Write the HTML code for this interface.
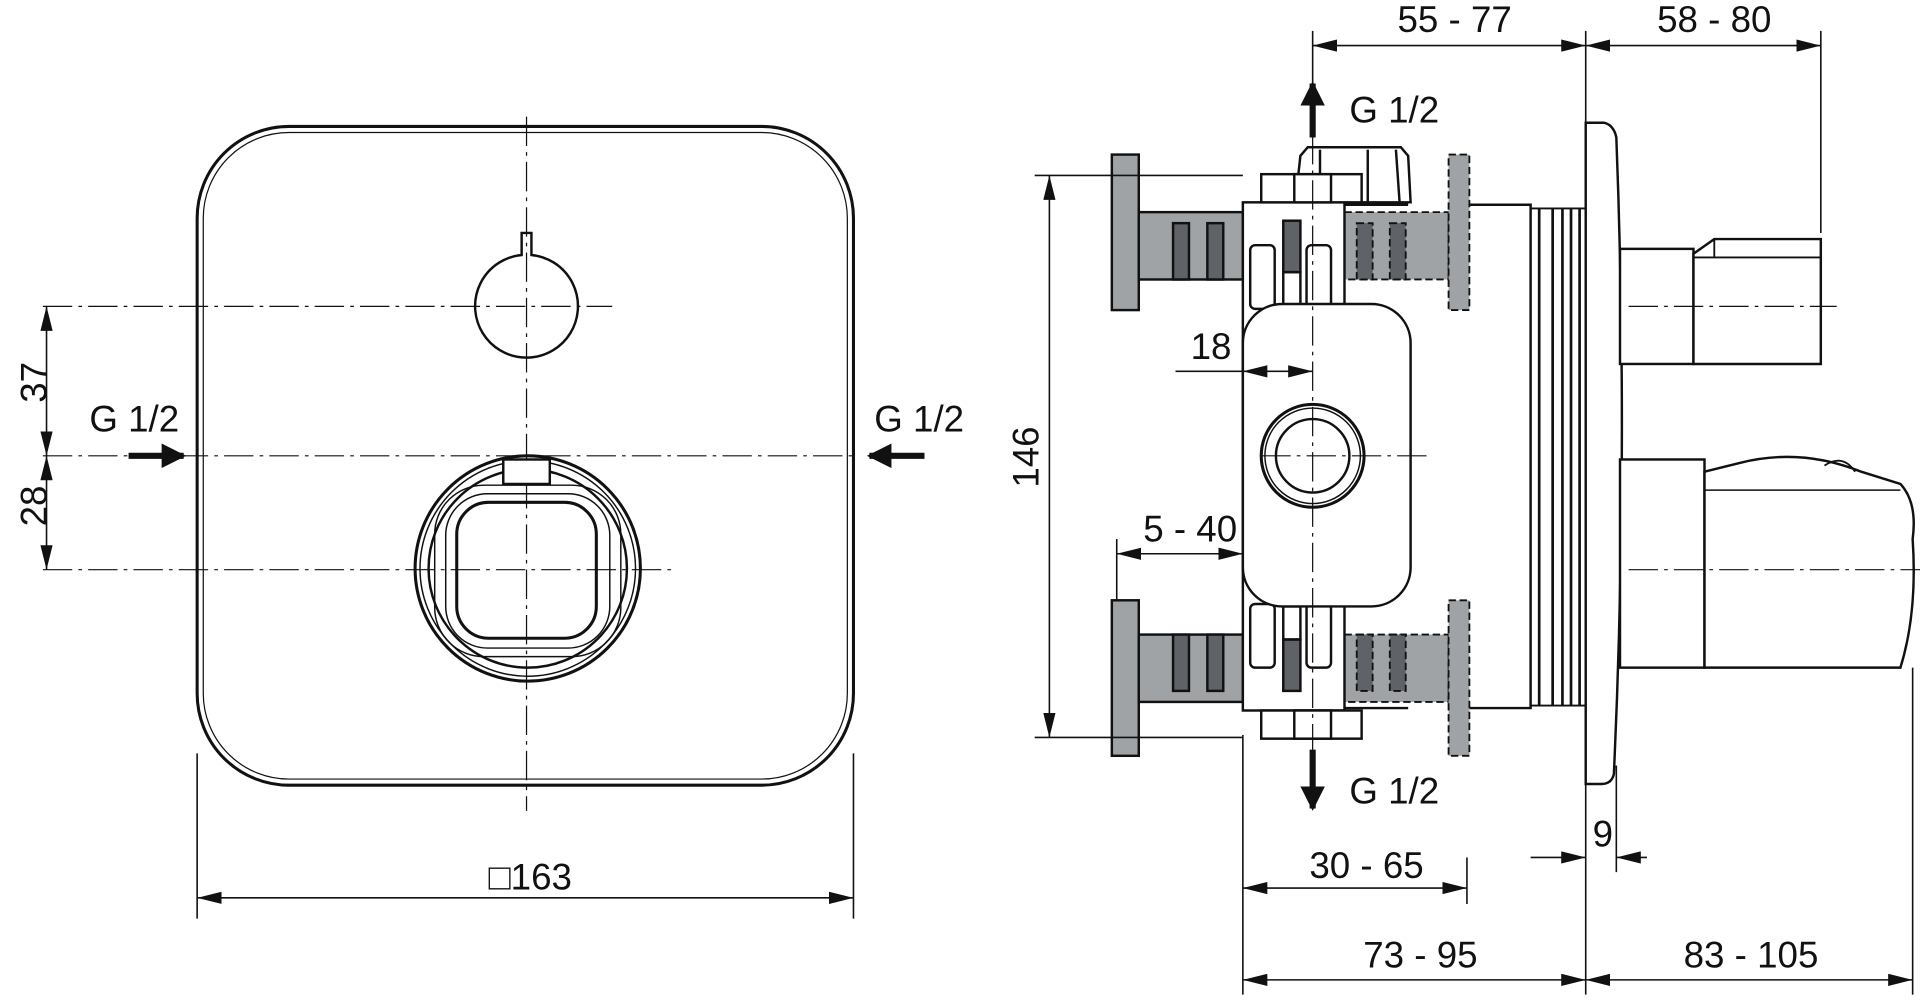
<!DOCTYPE html>
<html><head><meta charset="utf-8"><style>
html,body{margin:0;padding:0;background:#fff;}
svg{display:block;}
text{font-family:"Liberation Sans",Arial,sans-serif;font-size:30px;fill:#111;}
</style></head><body>
<svg width="1920" height="1001" viewBox="0 0 1568 817" xmlns="http://www.w3.org/2000/svg">
<defs>
<marker id="a" viewBox="0 0 20 10" refX="20" refY="5" markerWidth="20" markerHeight="10" markerUnits="userSpaceOnUse" orient="auto-start-reverse"><path d="M0,0 L20,5 L0,10 z" fill="#111"/></marker>
<marker id="b" viewBox="0 0 20 20" refX="18" refY="10" markerWidth="20" markerHeight="20" markerUnits="userSpaceOnUse" orient="auto"><path d="M0,0 L20,10 L0,20 z" fill="#111"/></marker>
</defs>
<g fill="none" stroke="#111" stroke-width="1.3">
<!-- LEFT VIEW -->
<rect x="161" y="103" width="536" height="538" rx="75" stroke-width="2.5"/>
<rect x="166" y="108" width="526" height="528" rx="70" stroke-width="1"/>
<g stroke-dasharray="24,5,3,5" stroke-width="1">
<line x1="430" y1="95" x2="430" y2="662"/>
<line x1="35" y1="250" x2="500" y2="250"/>
<line x1="35" y1="372" x2="700" y2="372"/>
<line x1="35" y1="465" x2="548" y2="465"/>
</g>
<path d="M426,208 L426,190 L434,190 L434,208 A42,42 0 1 1 426,208 Z" stroke-width="2"/>
<circle cx="431" cy="464" r="92" stroke-width="2.5"/>
<circle cx="431" cy="464" r="88" stroke-width="1.2"/>
<circle cx="431" cy="464" r="81" stroke-width="2"/>
<rect x="411" y="375" width="38" height="20" stroke-width="2" fill="#fff"/>
<rect x="355" y="396" width="152" height="140" rx="40" stroke-width="1.2"/>
<rect x="364" y="403" width="134" height="126" rx="34" stroke-width="1.2"/>
<rect x="373" y="410" width="114" height="111" rx="26" stroke-width="2.5"/>
<!-- dims left -->
<line x1="38" y1="250" x2="38" y2="372" marker-start="url(#a)" marker-end="url(#a)"/>
<line x1="38" y1="372" x2="38" y2="465" marker-start="url(#a)" marker-end="url(#a)"/>
<line x1="161" y1="615" x2="161" y2="750"/>
<line x1="697" y1="615" x2="697" y2="750"/>
<line x1="161" y1="733" x2="697" y2="733" marker-start="url(#a)" marker-end="url(#a)"/>
<line x1="105" y1="372" x2="150" y2="372" stroke-width="5" marker-end="url(#b)"/>
<line x1="755" y1="372" x2="710" y2="372" stroke-width="5" marker-end="url(#b)"/>

<!-- RIGHT VIEW -->
<g fill="#a0a3a6" stroke-width="2">
<rect x="908" y="126" width="22" height="127"/>
<rect x="930" y="173" width="85" height="55"/>
<rect x="908" y="490" width="22" height="127"/>
<rect x="930" y="518" width="85" height="55"/>
</g>
<g fill="#5f6266" stroke-width="2">
<rect x="958" y="182" width="13" height="46"/><rect x="986" y="182" width="13" height="46"/>
<rect x="958" y="518" width="13" height="46"/><rect x="986" y="518" width="13" height="46"/>
</g>
<g fill="#a0a3a6" stroke-width="1.5" stroke-dasharray="6,3">
<rect x="1098" y="173" width="85" height="55"/>
<rect x="1183" y="126" width="17" height="127"/>
<rect x="1098" y="518" width="85" height="55"/>
<rect x="1183" y="490" width="17" height="127"/>
</g>
<g fill="#5f6266" stroke-width="1.5" stroke-dasharray="6,3">
<rect x="1108" y="182" width="13" height="46"/><rect x="1135" y="182" width="13" height="46"/>
<rect x="1108" y="518" width="13" height="46"/><rect x="1135" y="518" width="13" height="46"/>
</g>
<polyline points="1200,167 1250,167 1250,578 1200,578" stroke-width="2"/>
<rect x="1015" y="165" width="83" height="415" fill="#fff" stroke-width="2"/>
<line x1="1098" y1="167" x2="1150" y2="167" stroke-width="2"/>
<line x1="1098" y1="578" x2="1150" y2="578" stroke-width="2"/>
<g stroke-width="2">
<rect x="1021" y="200" width="20" height="52" rx="4"/><rect x="1067" y="200" width="20" height="52" rx="4"/>
<rect x="1021" y="493" width="20" height="52" rx="4"/><rect x="1067" y="493" width="20" height="52" rx="4"/>
<rect x="1048" y="180" width="14" height="42" fill="#5f6266"/><rect x="1048" y="222" width="14" height="28"/>
<rect x="1048" y="522" width="14" height="42" fill="#5f6266"/><rect x="1048" y="495" width="14" height="27"/>
</g>
<g stroke-width="2" fill="#fff">
<path d="M1060,145 L1062,127 L1068,120 L1144,120 L1150,127 L1152,165 L1112,165"/>
<line x1="1078" y1="122" x2="1078" y2="142"/><line x1="1117" y1="122" x2="1117" y2="165"/><line x1="1140" y1="122" x2="1143" y2="165"/>
<rect x="1030" y="142" width="82" height="23"/>
<rect x="1057" y="142" width="30" height="23"/>
<rect x="1030" y="580" width="82" height="23"/>
<rect x="1057" y="580" width="30" height="23"/>
</g>
<rect x="1015" y="248" width="137" height="247" rx="32" fill="#fff" stroke-width="2"/>
<circle cx="1072" cy="372" r="42" stroke-width="2.5"/>
<circle cx="1072" cy="372" r="39" stroke-width="1.2"/>
<circle cx="1072" cy="372" r="30" stroke-width="2"/>
<g stroke-width="2.2">
<line x1="1257" y1="170" x2="1257" y2="576"/>
<line x1="1268" y1="170" x2="1268" y2="576"/>
<line x1="1276" y1="170" x2="1276" y2="576"/>
<line x1="1283" y1="170" x2="1283" y2="576"/>
<line x1="1290" y1="170" x2="1290" y2="576"/>
</g>
<line x1="1250" y1="170" x2="1295" y2="170" stroke-width="1.5"/>
<line x1="1250" y1="576" x2="1295" y2="576" stroke-width="1.5"/>
<path d="M1295,100 L1310,100 Q1318,102 1320,112 Q1330,370 1318,632 Q1316,640 1308,640 L1295,640 Z" fill="#fff" stroke-width="2"/>
<rect x="1323" y="203" width="60" height="94" fill="#fff" stroke-width="2"/>
<path d="M1383,207 L1400,195 L1487,195 L1487,297 L1383,297 Z" fill="#fff" stroke-width="2"/>
<line x1="1400" y1="195" x2="1400" y2="210" stroke-width="1.5"/><line x1="1383" y1="210" x2="1487" y2="210" stroke-width="1.5"/>
<rect x="1323" y="375" width="69" height="170" fill="#fff" stroke-width="2"/>
<path d="M1392,385 L1420,378 Q1470,365 1520,385 L1552,395 Q1566,410 1562,440 Q1566,500 1552,545 L1392,545 Z" fill="#fff" stroke-width="2"/>
<path d="M1392,400 L1552,400" stroke-width="1.2"/>
<path d="M1490,380 Q1505,370 1515,385" stroke-width="1.5"/>
<g stroke-dasharray="24,5,3,5" stroke-width="1">
<line x1="1072" y1="110" x2="1072" y2="625"/>
<line x1="1030" y1="372" x2="1168" y2="372"/>
<line x1="1330" y1="250" x2="1500" y2="250"/>
<line x1="1330" y1="465" x2="1568" y2="465"/>
</g>
<line x1="1072" y1="25" x2="1072" y2="75"/>
<line x1="1295" y1="25" x2="1295" y2="100"/>
<line x1="1487" y1="25" x2="1487" y2="190"/>
<line x1="1072" y1="37" x2="1295" y2="37" marker-start="url(#a)" marker-end="url(#a)"/>
<line x1="1295" y1="37" x2="1487" y2="37" marker-start="url(#a)" marker-end="url(#a)"/>
<line x1="1072" y1="112" x2="1072" y2="68" stroke-width="5" marker-end="url(#b)"/>
<line x1="1072" y1="612" x2="1072" y2="660" stroke-width="5" marker-end="url(#b)"/>
<line x1="845" y1="143" x2="1015" y2="143"/>
<line x1="845" y1="602" x2="1015" y2="602"/>
<line x1="857" y1="143" x2="857" y2="602" marker-start="url(#a)" marker-end="url(#a)"/>
<line x1="960" y1="303" x2="1015" y2="303"/>
<line x1="1015" y1="303" x2="1072" y2="303" marker-start="url(#a)" marker-end="url(#a)"/>
<line x1="912" y1="440" x2="912" y2="490"/>
<line x1="912" y1="452" x2="1015" y2="452" marker-start="url(#a)" marker-end="url(#a)"/>
<line x1="1015" y1="600" x2="1015" y2="812"/>
<line x1="1198" y1="700" x2="1198" y2="738"/>
<line x1="1015" y1="725" x2="1198" y2="725" marker-start="url(#a)" marker-end="url(#a)"/>
<line x1="1295" y1="640" x2="1295" y2="812"/>
<line x1="1320" y1="625" x2="1320" y2="712"/>
<line x1="1250" y1="700" x2="1295" y2="700" marker-end="url(#a)"/>
<line x1="1345" y1="700" x2="1320" y2="700" marker-end="url(#a)"/>
<line x1="1562" y1="545" x2="1562" y2="812"/>
<line x1="1015" y1="800" x2="1295" y2="800" marker-start="url(#a)" marker-end="url(#a)"/>
<line x1="1295" y1="800" x2="1562" y2="800" marker-start="url(#a)" marker-end="url(#a)"/>
</g>
<text x="28" y="312" text-anchor="middle" transform="rotate(-90 28 312)" dy="10">37</text>
<text x="28" y="413" text-anchor="middle" transform="rotate(-90 28 413)" dy="10">28</text>
<text x="73" y="352">G 1/2</text>
<text x="714" y="352">G 1/2</text>
<text x="433" y="726" text-anchor="middle">□163</text>
<text x="1188" y="26" text-anchor="middle">55 - 77</text>
<text x="1400" y="26" text-anchor="middle">58 - 80</text>
<text x="1102" y="100">G 1/2</text>
<text x="1102" y="656">G 1/2</text>
<text x="838" y="373" text-anchor="middle" transform="rotate(-90 838 373)" dy="10">146</text>
<text x="989" y="293" text-anchor="middle">18</text>
<text x="972" y="442" text-anchor="middle">5 - 40</text>
<text x="1116" y="717" text-anchor="middle">30 - 65</text>
<text x="1309" y="691" text-anchor="middle">9</text>
<text x="1160" y="790" text-anchor="middle">73 - 95</text>
<text x="1430" y="790" text-anchor="middle">83 - 105</text>
</svg>
</body></html>
